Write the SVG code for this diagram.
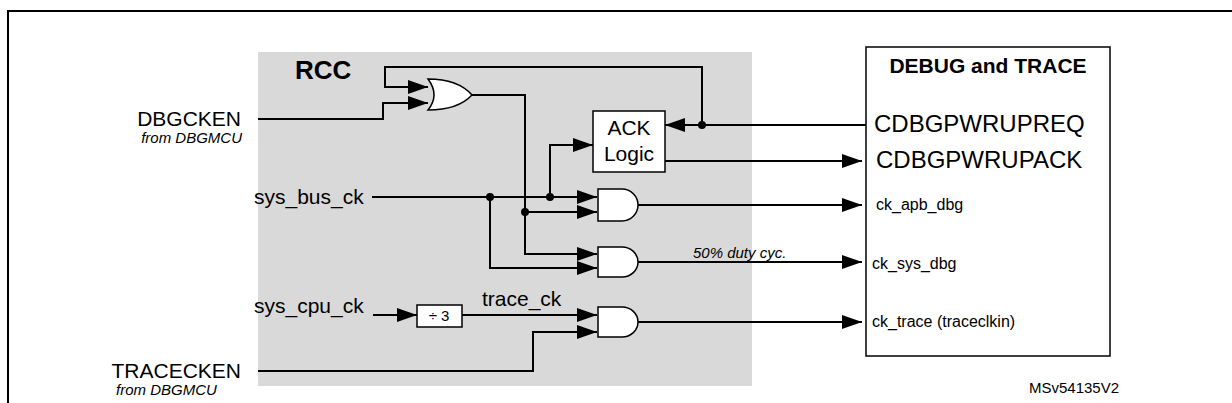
<svg xmlns="http://www.w3.org/2000/svg" width="1232" height="403" viewBox="0 0 1232 403">
<defs>
<marker id="a" viewBox="0 0 20 14" refX="20" refY="7" markerWidth="20" markerHeight="14" markerUnits="userSpaceOnUse" orient="auto"><path d="M0,0 L20,7 L0,14 Z" fill="#000"/></marker>
<style>
.w{fill:none;stroke:#000;stroke-width:2}
.g{fill:#fff;stroke:#000;stroke-width:1.5}
text{font-family:"Liberation Sans",Arial,sans-serif;fill:#000}
.l{font-size:21px}
.x{font-size:24px}
.s{font-size:16px}
.i{font-size:15px;font-style:italic}
.b{font-weight:bold}
</style>
</defs>
<rect width="1232" height="403" fill="#fff"/>
<path d="M8,403 V11 H1232" fill="none" stroke="#000" stroke-width="2"/>
<rect id="rcc" x="258" y="52" width="494" height="334" fill="#d9d9d9"/>
<text x="295" y="79" class="b" font-size="26">RCC</text>
<g id="labels">
<text x="241" y="126" class="l" text-anchor="end">DBGCKEN</text>
<text x="242" y="143" class="i" text-anchor="end">from DBGMCU</text>
<text x="254" y="204" class="l">sys_bus_ck</text>
<text x="254" y="313" class="l">sys_cpu_ck</text>
<text x="482" y="306" class="l">trace_ck</text>
<text x="241" y="378" class="l" text-anchor="end">TRACECKEN</text>
<text x="116" y="395" class="i">from DBGMCU</text>
<text x="693" y="258" class="i">50% duty cyc.</text>
<text x="1029" y="393" font-size="15">MSv54135V2</text>
</g>
<g id="connectors">
<path class="w" d="M702,125 V67 H385 V87 H428" marker-end="url(#a)"/>
<path class="w" d="M258,119 H383 V103 H428" marker-end="url(#a)"/>
<path class="w" d="M472,95 H525 V254 H597" marker-end="url(#a)"/>
<path class="w" d="M866,125 H665" marker-end="url(#a)"/>
<path class="w" d="M665,161 H862" marker-end="url(#a)"/>
<path class="w" d="M550,197 V145 H593" marker-end="url(#a)"/>
<path class="w" d="M372,197 H597" marker-end="url(#a)"/>
<path class="w" d="M525,212 H597" marker-end="url(#a)"/>
<path class="w" d="M490,197 V268 H597" marker-end="url(#a)"/>
<path class="w" d="M373,315 H417" marker-end="url(#a)"/>
<path class="w" d="M462,315 H597" marker-end="url(#a)"/>
<path class="w" d="M258,371 H533 V332 H597" marker-end="url(#a)"/>
<path class="w" d="M638,205 H862" marker-end="url(#a)"/>
<path class="w" d="M638,262 H862" marker-end="url(#a)"/>
<path class="w" d="M638,322 H862" marker-end="url(#a)"/>
<circle cx="702" cy="125" r="4"/>
<circle cx="490" cy="197" r="4"/>
<circle cx="550" cy="197" r="4"/>
<circle cx="525" cy="212" r="4"/>
</g>
<g id="or"><path class="g" d="M428,79 Q458,79 472,95 Q458,110 428,110 Q440,95 428,79 Z"/></g>
<g id="ack"><rect class="g" x="593" y="111" width="72" height="61"/><text x="629" y="135" class="l" text-anchor="middle">ACK</text><text x="629" y="161" class="l" text-anchor="middle">Logic</text></g>
<g id="and1"><path class="g" d="M598,189 H622 A16,16 0 0 1 622,221 H598 Z"/></g>
<g id="and2"><path class="g" d="M598,247 H622 A16,15 0 0 1 622,277 H598 Z"/></g>
<g id="and3"><path class="g" d="M598,307 H622 A16,15 0 0 1 622,337 H598 Z"/></g>
<g id="div3"><rect class="g" x="417" y="305" width="45" height="22"/><text x="439" y="321" font-size="15" text-anchor="middle">÷ 3</text></g>
<g id="debug">
<rect x="866" y="47" width="244" height="309" fill="#fff" stroke="#000" stroke-width="1.5"/>
<text x="988" y="73" font-size="21" class="b" text-anchor="middle">DEBUG and TRACE</text>
<text x="874" y="132" class="x">CDBGPWRUPREQ</text>
<text x="876" y="168" class="x">CDBGPWRUPACK</text>
<text x="876" y="210" class="s">ck_apb_dbg</text>
<text x="872" y="269" class="s">ck_sys_dbg</text>
<text x="872" y="327" class="s">ck_trace (traceclkin)</text>
</g>
</svg>
